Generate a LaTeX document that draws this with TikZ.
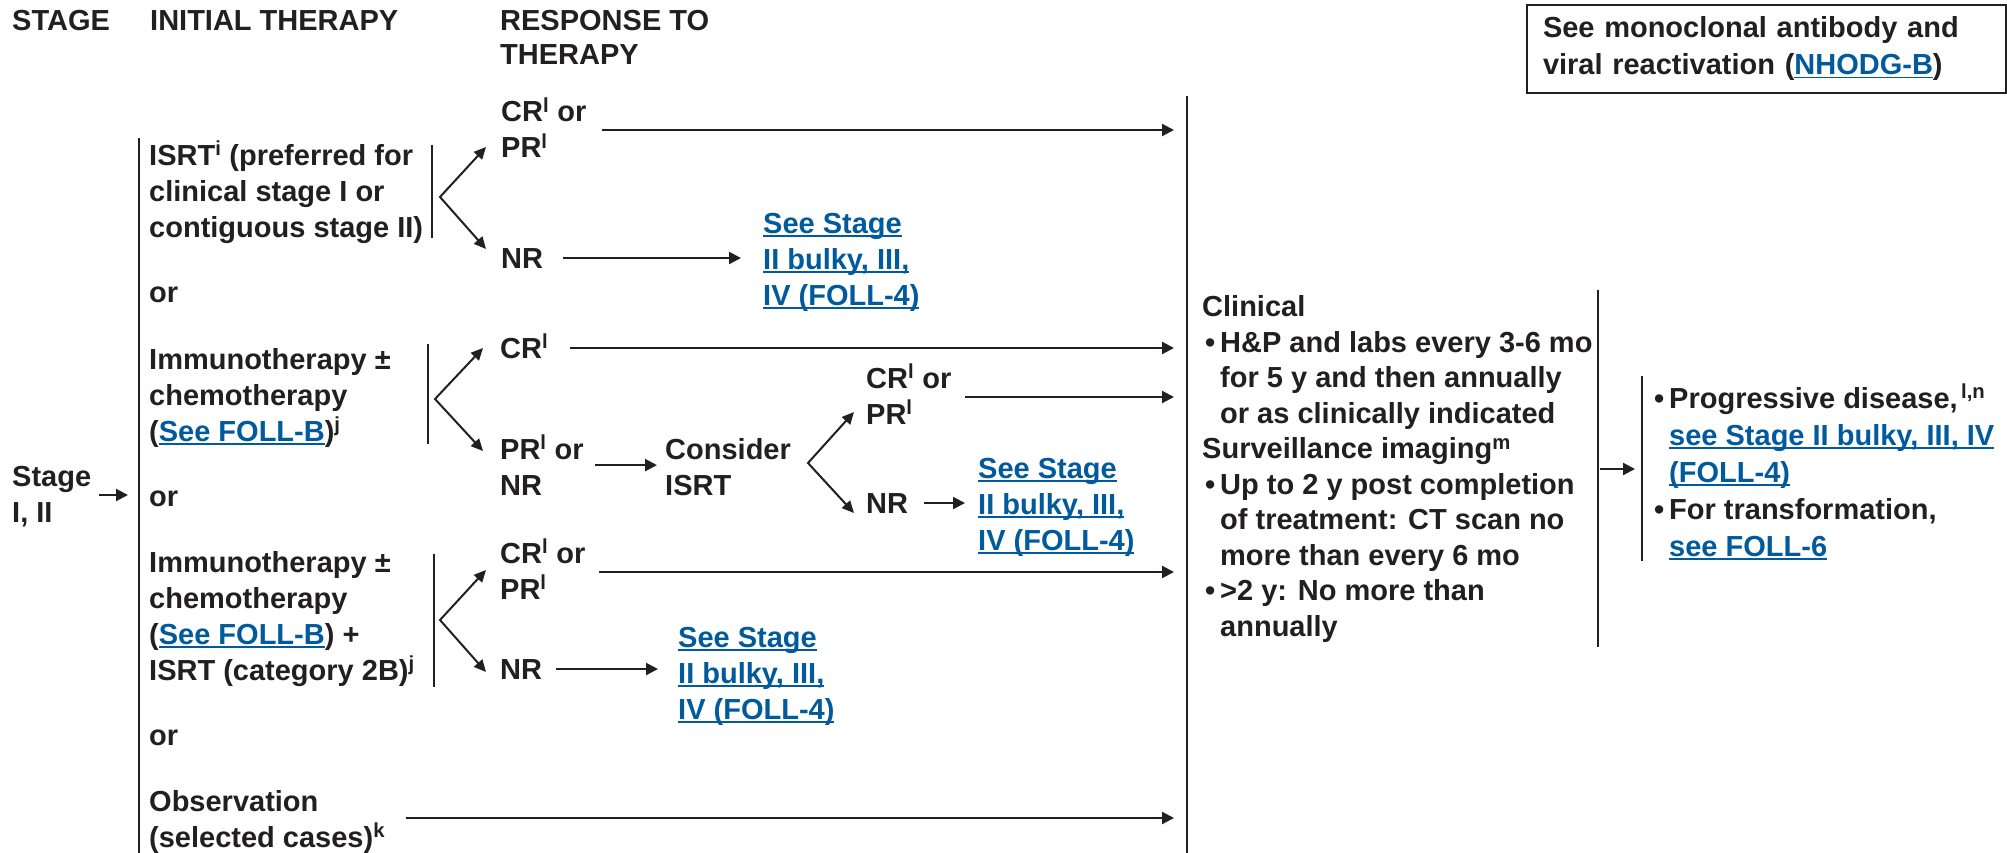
\documentclass[tikz,border=0pt]{standalone}
\usepackage{fontspec}
\setmainfont{Liberation Sans}
\usetikzlibrary{arrows.meta}
\definecolor{ink}{HTML}{231F20}
\definecolor{linkblue}{HTML}{005A9C}
\newsavebox{\lnkbox}
\newcommand{\lnk}[1]{\textcolor{linkblue}{\sbox{\lnkbox}{#1}\rlap{\rule[-3.5pt]{\wd\lnkbox}{1.5pt}}\usebox{\lnkbox}}}
\newcommand{\fn}[1]{\textsuperscript{#1}}
\newcommand{\bul}{\makebox[15pt][l]{\textbullet}}
\tikzset{
  txt/.style={anchor=base west, inner sep=0pt, align=left, text=ink, font=\bfseries\fontsize{29}{36}\selectfont},
  notebox/.style={txt, anchor=north west, draw=ink, line width=2pt, minimum width=479pt, minimum height=88pt, inner xsep=16pt, text width=447pt, font=\bfseries\fontsize{29}{37}\selectfont},
  arrow/.style={line width=2.2pt, draw=ink, -{Triangle[length=12pt,width=12pt]}},
  fork/.style={line width=2pt, draw=ink, {Triangle[length=12pt,width=11pt]}-{Triangle[length=12pt,width=11pt]}},
  bar/.style={line width=2.2pt, draw=ink},
  bracket/.style={line width=2pt, draw=ink}
}
\begin{document}
\begin{tikzpicture}[x=1pt, y=-1pt]
\useasboundingbox (0,0) rectangle (2007,853);
% column heads (multi-line nodes sit on their last baseline)
\node[txt] (hstage) at (12,31) {STAGE};
\node[txt] (hinit) at (150,31) {INITIAL THERAPY};
\node[txt, font=\bfseries\fontsize{29}{34}\selectfont] (hresp) at (500,65) {RESPONSE TO\\THERAPY};
\node[notebox] (note) at (1526,4) {See monoclonal antibody and\\viral reactivation (\lnk{NHODG-B})};

% stage
\node[txt] (stage) at (12,522) {Stage\\I, II};
\coordinate (spinetop) at (139,138);
\coordinate (spinebot) at (139,853);
\coordinate (spinein) at (128,495);
\draw[bar] (spinetop) -- (spinebot);
\draw[arrow] ([xshift=8pt]stage.east |- spinein) -- (spinein);

% initial therapy
\node[txt] (isrt) at (149,237) {ISRT\fn{i} (preferred for\\clinical stage I or\\contiguous stage II)};
\node[txt] (or1) at (149,302) {or};
\node[txt] (immA) at (149,441) {Immunotherapy ±\\chemotherapy\\(\lnk{See FOLL-B})\fn{j}};
\node[txt] (or2) at (149,506) {or};
\node[txt] (immB) at (149,680) {Immunotherapy ±\\chemotherapy\\(\lnk{See FOLL-B}) +\\ISRT (category 2B)\fn{j}};
\node[txt] (or3) at (149,745) {or};
\node[txt] (obs) at (149,847) {Observation\\(selected cases)\fn{k}};

% response to therapy
\node[txt] (crprA) at (501,158) {CR\fn{l} or\\PR\fn{l}};
\node[txt] (nrA) at (501,268) {NR};
\node[txt] (seeA) at (763,305) {\lnk{See Stage}\\\lnk{II bulky, III,}\\\lnk{IV (FOLL-4)}};
\node[txt] (crB) at (500,358) {CR\fn{l}};
\node[txt] (prnrB) at (500,495) {PR\fn{l} or\\NR};
\node[txt] (consider) at (665,495) {Consider\\ISRT};
\node[txt] (crprC) at (866,424) {CR\fn{l} or\\PR\fn{l}};
\node[txt] (nrC) at (866,513) {NR};
\node[txt] (seeC) at (978,550) {\lnk{See Stage}\\\lnk{II bulky, III,}\\\lnk{IV (FOLL-4)}};
\node[txt] (crprD) at (500,599) {CR\fn{l} or\\PR\fn{l}};
\node[txt] (nrD) at (500,679) {NR};
\node[txt] (seeD) at (678,719) {\lnk{See Stage}\\\lnk{II bulky, III,}\\\lnk{IV (FOLL-4)}};

% brackets and forks
\draw[bracket] (432,145) -- (432,238);
\draw[bracket] (428,344) -- (428,444);
\draw[bracket] (434,554) -- (434,687);
\coordinate (vA) at (440,197);
\coordinate (vB) at (435,399);
\coordinate (vC) at (808,463);
\coordinate (vD) at (440,620);
\coordinate (tA1) at (486,147); \coordinate (tA2) at (486,249);
\coordinate (tB1) at (483,348); \coordinate (tB2) at (483,451);
\coordinate (tC1) at (854,412); \coordinate (tC2) at (854,513);
\coordinate (tD1) at (486,570); \coordinate (tD2) at (486,672);
\draw[fork] (tA1) -- (vA) -- (tA2);
\draw[fork] (tB1) -- (vB) -- (tB2);
\draw[fork] (tC1) -- (vC) -- (tC2);
\draw[fork] (tD1) -- (vD) -- (tD2);

% arrows into follow-up
\coordinate (midtop) at (1187,96);
\coordinate (midbot) at (1187,853);
\draw[bar] (midtop) -- (midbot);
\coordinate (e1) at (1174,130);
\coordinate (e2) at (1174,348);
\coordinate (e3) at (1174,397);
\coordinate (e4) at (1174,572);
\coordinate (e5) at (1174,818);
\draw[arrow] ([xshift=16pt]crprA.east |- e1) -- (e1);
\draw[arrow] ([xshift=22pt]crB.east |- e2) -- (e2);
\draw[arrow] ([xshift=14pt]crprC.east |- e3) -- (e3);
\draw[arrow] ([xshift=14pt]crprD.east |- e4) -- (e4);
\draw[arrow] ([xshift=21pt]obs.east |- e5) -- (e5);
\draw[arrow] ([xshift=20pt]nrA.east) -- ([xshift=-22pt]seeA.west |- nrA.east);
\draw[arrow] ([xshift=11pt]prnrB.east) -- ([xshift=-8pt]consider.west |- prnrB.east);
\draw[arrow] ([xshift=16pt]nrC.east) -- ([xshift=-13pt]seeC.west |- nrC.east);
\draw[arrow] ([xshift=14pt]nrD.east) -- ([xshift=-20pt]seeD.west |- nrD.east);

% follow-up
\node[txt, font=\bfseries\fontsize{29}{35.5}\selectfont] (clin) at (1202,636) {Clinical\\
\hspace*{3pt}\bul H\&P and labs every 3-6 mo\\
\hspace*{18pt}for 5 y and then annually\\
\hspace*{18pt}or as clinically indicated\\
Surveillance imaging\fn{m}\\
\hspace*{3pt}\bul Up to 2 y post completion\\
\hspace*{18pt}of treatment: CT scan no\\
\hspace*{18pt}more than every 6 mo\\
\hspace*{3pt}\bul >2 y: No more than\\
\hspace*{18pt}annually};
\coordinate (rtop) at (1598,290);
\coordinate (rbot) at (1598,647);
\draw[bar] (rtop) -- (rbot);
\draw[bracket] (1642,376) -- (1642,561);
\node[txt, font=\bfseries\fontsize{29}{37}\selectfont] (prog) at (1654,556) {\bul Progressive disease,\fn{\,l,n}\\
\hspace*{15pt}\lnk{see Stage II bulky, III, IV}\\
\hspace*{15pt}\lnk{(FOLL-4)}\\
\bul For transformation,\\
\hspace*{15pt}\lnk{see FOLL-6}};
\coordinate (rout) at (1600,469);
\coordinate (rin) at (1635,469);
\draw[arrow] (rout) -- (rin);
\end{tikzpicture}
\end{document}
